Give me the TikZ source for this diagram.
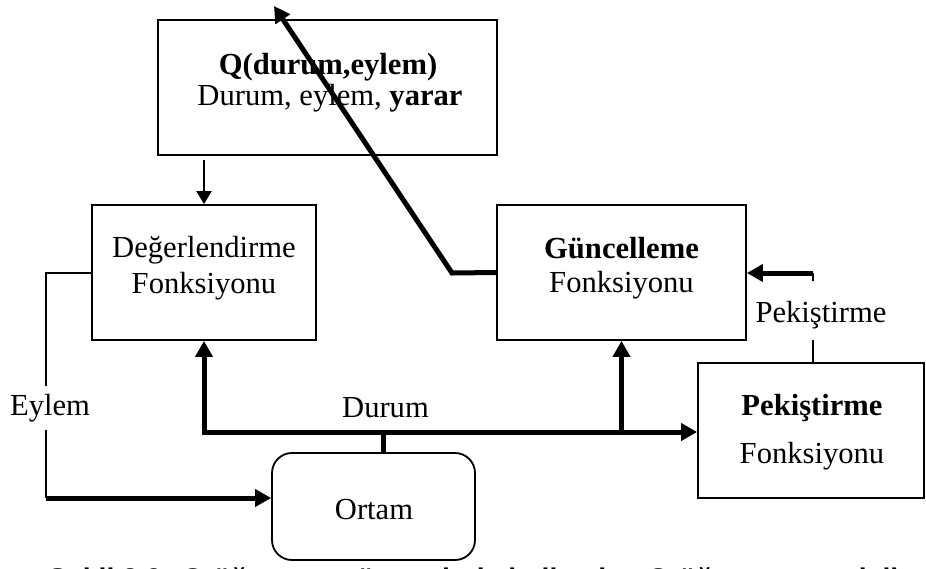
\documentclass[tikz,border=0pt]{standalone}
\usepackage{fontspec}
\setmainfont{Liberation Serif}
\newfontfamily\capfont{Liberation Sans}
\usetikzlibrary{arrows.meta}
\begin{document}
\begin{tikzpicture}[x=1pt,y=-1pt,
  box/.style={draw, line width=1.8pt, inner sep=0pt, fill=white},
  lbl/.style={font=\fontsize{30.6}{36}\selectfont, inner sep=0pt, anchor=base},
  thinline/.style={line width=2pt},
  thickline/.style={line width=5pt},
  bigtip/.style={-{Triangle[length=16pt,width=17pt]}},
  smalltip/.style={-{Triangle[length=13pt,width=15pt]}}
]
\useasboundingbox (0,0) rectangle (926,568);
\fill[white] (0,0) rectangle (926,568);
\clip (0,0) rectangle (926,568);

% caption line, mostly below the lower edge
\node[anchor=base west, inner sep=0pt,
      font=\capfont\bfseries\fontsize{28.4}{30}\selectfont] (cap) at (48,588)
  {Şekil 2.9: Q-öğrenme yönteminde kullanılan Q-öğrenme modeli};

% boxes
\node[box, minimum width=339, minimum height=135] (q) at (327.5,87.5) {};
\node[box, minimum width=224, minimum height=135] (d) at (204,272.5) {};
\node[box, minimum width=249, minimum height=135] (g) at (621.5,272.5) {};
\node[box, minimum width=226, minimum height=135] (p) at (811,430.5) {};
\node[box, rounded corners=20pt, minimum width=203, minimum height=107] (o) at (373.5,506.5) {};

% box texts
\node[lbl] (q1) at (328,74) {\bfseries Q(durum,eylem)};
\node[lbl] (q2) at (330,105) {Durum, eylem, \textbf{yarar}};
\node[lbl] (d1) at (204,257) {Değerlendirme};
\node[lbl] (d2) at (204,293) {Fonksiyonu};
\node[lbl] (g1) at (621.5,258) {\bfseries Güncelleme};
\node[lbl] (g2) at (621.5,292) {Fonksiyonu};
\node[lbl] (p1) at (812,415) {\bfseries Pekiştirme};
\node[lbl] (p2) at (812,463) {Fonksiyonu};
\node[lbl] (o1) at (374,519) {Ortam};

% connector labels
\node[lbl] (e) at (50,415) {Eylem};
\node[lbl] (du) at (385.5,417) {Durum};
\node[lbl] (pl) at (821,322) {Pekiştirme};

% Q table to evaluation
\draw[thinline, smalltip] ([yshift=-4pt]q.south -| d.north) -- (d.north);

% action: evaluation to environment
\coordinate (ey) at (46,498);
\draw[thinline] (d.west) -| ([yshift=7.5pt]e.north -| ey);
\draw[thinline] ([yshift=-8.5pt]e.south -| ey) -- (ey);
\draw[thickline, bigtip] (ey) -- (ey -| o.west);

% state: environment to the three functions
\coordinate (j) at (383,432);
\draw[thickline] (j |- o.north) -- (j);
\draw[thickline, bigtip] (j) -| (d.south);
\draw[thickline, bigtip] (j) -- (j -| p.west);
\draw[thickline, bigtip] (j -| g.south) -- (g.south);

% reinforcement to update
\coordinate (pk) at (813,273);
\draw[thinline] (p.north -| pk) -- ([yshift=-11.5pt]pl.south -| pk);
\draw[thinline] ([yshift=19.5pt]pl.north -| pk) -- (pk);
\draw[thickline, bigtip] (pk) -- (pk -| g.east);

% update back to the Q table
\coordinate (bend) at (452,273);
\coordinate (tip) at (274,6);
\draw[thickline, bigtip] (g.west) -- (bend) -- (tip);
\end{tikzpicture}
\end{document}
